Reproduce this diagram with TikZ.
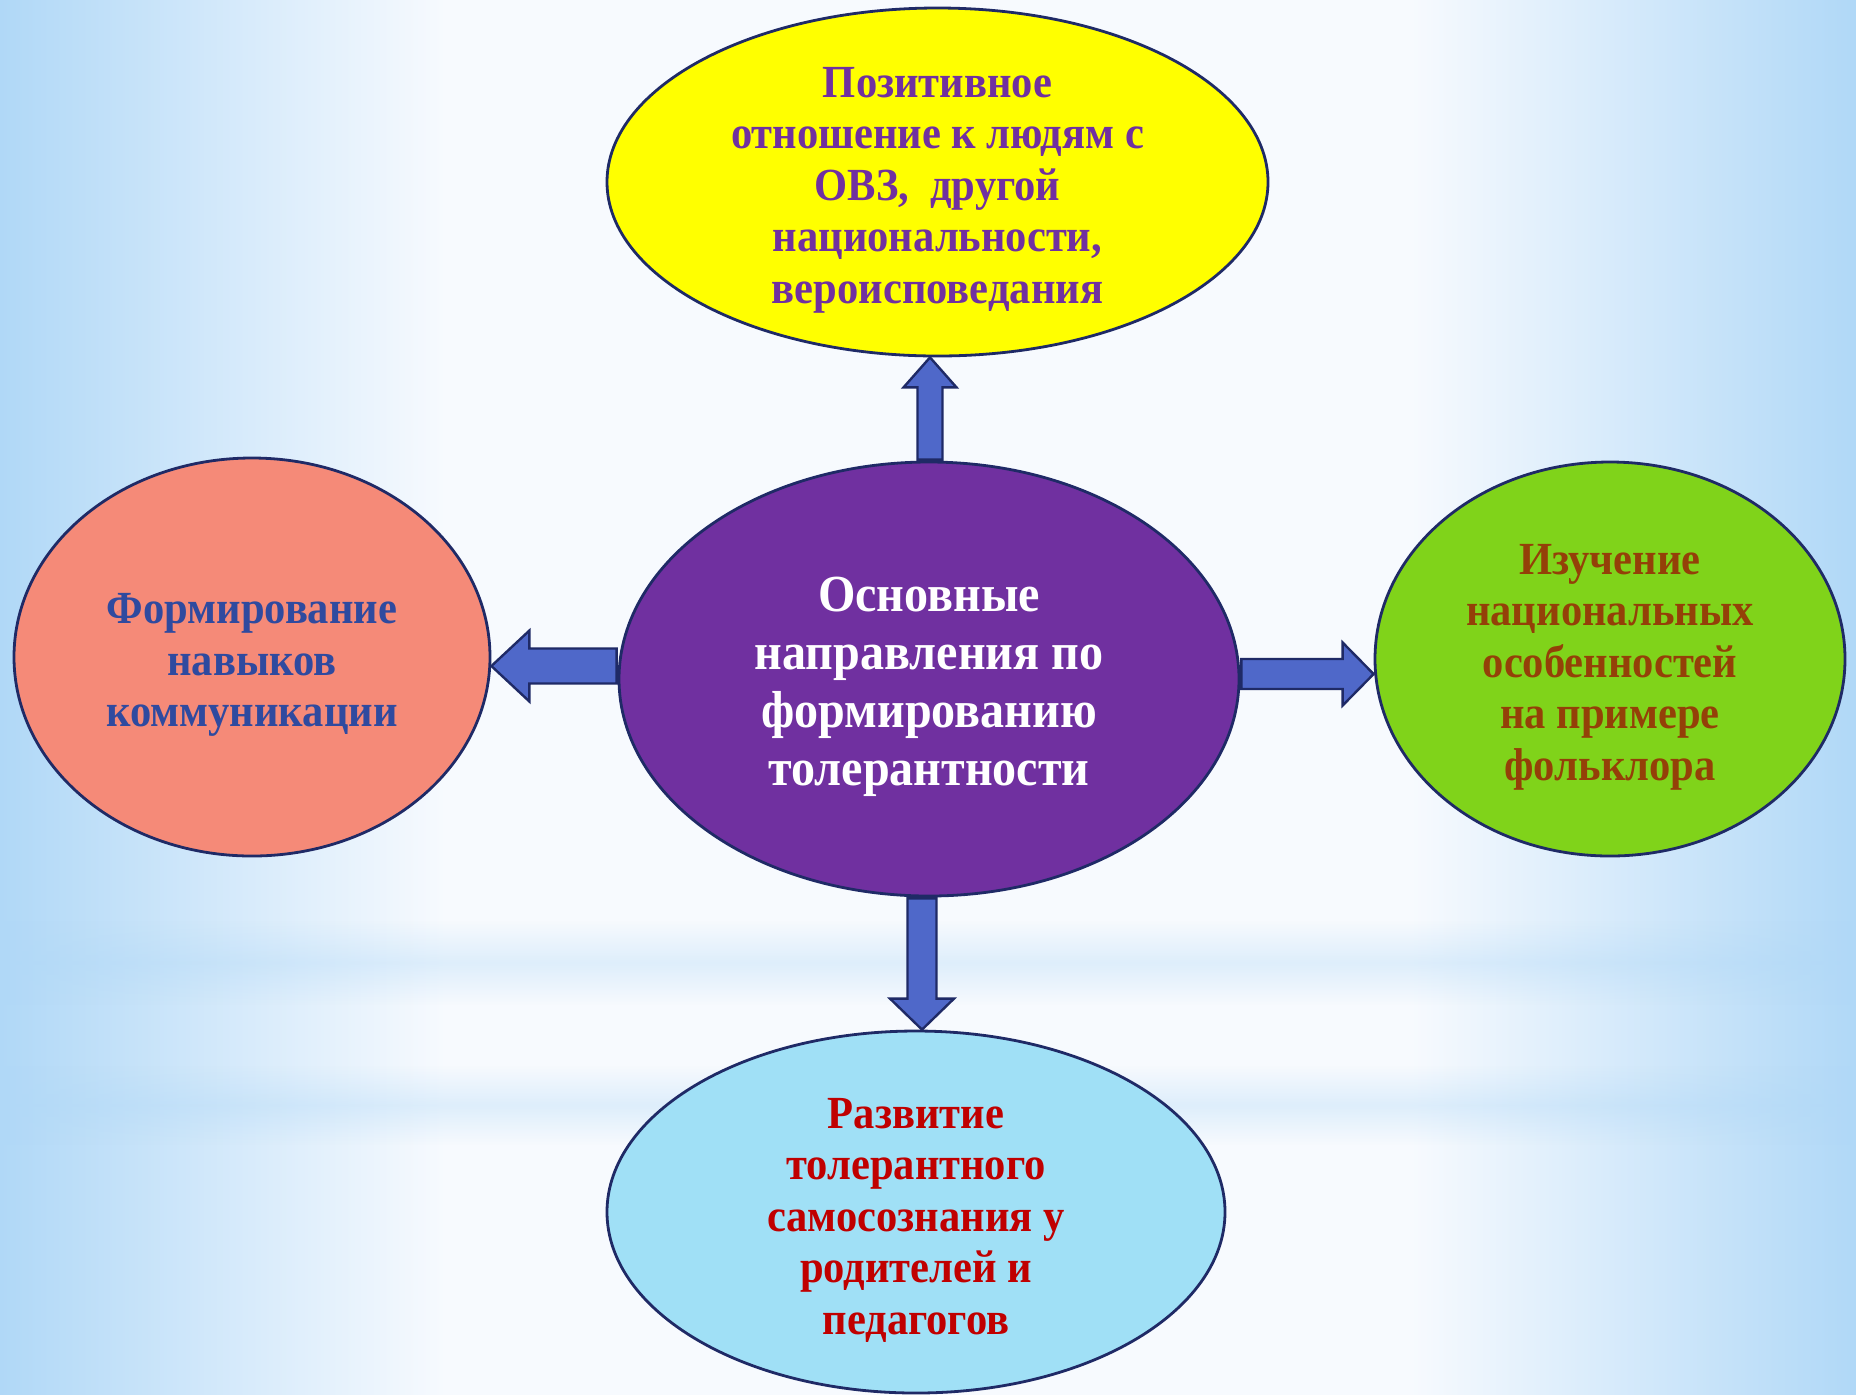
\documentclass[tikz,border=0pt]{standalone}
\usepackage{fontspec}
\setmainfont{Liberation Serif}[FakeStretch=0.925]
\usetikzlibrary{shapes.geometric,calc,fadings}
\definecolor{bgb}{HTML}{B0D8F7}
\definecolor{bgw}{HTML}{F7FAFE}
\definecolor{outl}{HTML}{1F2A66}
\definecolor{arrfill}{HTML}{4F68C9}
\definecolor{cyell}{HTML}{FFFF00}
\definecolor{cpurp}{HTML}{7030A0}
\definecolor{csalm}{HTML}{F58A78}
\definecolor{cbluet}{HTML}{2F4A9F}
\definecolor{cgreen}{HTML}{80D31A}
\definecolor{cbrown}{HTML}{944008}
\definecolor{clblue}{HTML}{A0E0F6}
\definecolor{cred}{HTML}{C00000}
\pgfdeclarehorizontalshading{bgshade}{100bp}{color(0bp)=(bgb); color(25bp)=(bgb); color(37bp)=(bgw); color(63bp)=(bgw); color(75bp)=(bgb); color(100bp)=(bgb)}
\tikzfading[name=bandfade, top color=transparent!100, bottom color=transparent!100, middle color=transparent!65]
\tikzset{
  bubble/.style={ellipse, draw=outl, line width=1.4pt, inner sep=0pt},
  btext/.style={align=center, inner sep=0pt, font=\bfseries\fontsize{23pt}{25.75pt}\selectfont},
  barrow/.style={draw=outl, fill=arrfill, line width=1.2pt, line join=miter},
  band/.style={fill=bgb, path fading=bandfade}
}
\newcommand\varrow[5]{\draw[barrow] let \p1=(#1), \p2=(#2), \n1={\y2-sign(\y2-\y1)*#5} in
  ({\x1-#3},\y1) -- ({\x1-#3},{\n1*1pt}) -- ({\x1-#4},{\n1*1pt}) -- (\x1,\y2) -- ({\x1+#4},{\n1*1pt}) -- ({\x1+#3},{\n1*1pt}) -- ({\x1+#3},\y1) -- cycle;}
\newcommand\harrow[5]{\draw[barrow] let \p1=(#1), \p2=(#2), \n1={\x2-sign(\x2-\x1)*#5} in
  (\x1,{\y1-#3}) -- ({\n1*1pt},{\y1-#3}) -- ({\n1*1pt},{\y1-#4}) -- (\x2,\y1) -- ({\n1*1pt},{\y1+#4}) -- ({\n1*1pt},{\y1+#3}) -- (\x1,{\y1+#3}) -- cycle;}
\begin{document}
\begin{tikzpicture}[x=0.5pt,y=-0.5pt]
\useasboundingbox (0,0) rectangle (1856,1394);
\shade[shading=bgshade] (0,0) rectangle (1856,1394);
\path[band] (0,920) rectangle (1856,1005);
\path[band] (0,1065) rectangle (1856,1145);
% bubbles
\node[bubble, fill=cpurp, minimum width=310pt, minimum height=217pt] (c) at (929,679) {};
\node[bubble, fill=cyell, minimum width=330.5pt, minimum height=174pt] (t) at (937.5,182) {};
\node[bubble, fill=csalm, minimum width=238pt, minimum height=199pt] (l) at (252,657) {};
\node[bubble, fill=cgreen, minimum width=235pt, minimum height=197pt] (r) at (1610,659) {};
\node[bubble, fill=clblue, minimum width=309pt, minimum height=181pt] (b) at (916,1212) {};
% texts
\node[btext, text=white, font=\bfseries\fontsize{26pt}{29pt}\selectfont] (ct) at ($(c)+(0,8)$)
  {Основные\\направления по\\формированию\\толерантности};
\node[btext, text=cpurp] (tt) at ($(t)+(0,8)$)
  {Позитивное\\отношение к людям с\\ОВЗ,~ другой\\национальности,\\вероисповедания};
\node[btext, text=cbluet] (lt) at ($(l)+(0,8)$)
  {Формирование\\навыков\\коммуникации};
\node[btext, text=cbrown] (rt) at ($(r)+(0,8)$)
  {Изучение\\национальных\\особенностей\\на примере\\фольклора};
\node[btext, text=cred] (bt) at ($(b)+(0,8)$)
  {Развитие\\толерантного\\самосознания у\\родителей и\\педагогов};
% arrows
\coordinate (upS) at ($(c.north)+(1,-1)$);
\coordinate (dnS) at ($(c.south)+(-7,1)$);
\coordinate (lfS) at ($(c.west)+(-1,-13)$);
\coordinate (rtS) at ($(c.east)+(1,-5)$);
\varrow{upS}{t.south}{6.25pt}{13.25pt}{15pt}
\varrow{dnS}{b.north}{7.25pt}{16pt}{15.5pt}
\harrow{lfS}{l.east}{8.75pt}{17.75pt}{19pt}
\harrow{rtS}{r.west}{7.5pt}{15.75pt}{15.5pt}
\end{tikzpicture}
\end{document}
